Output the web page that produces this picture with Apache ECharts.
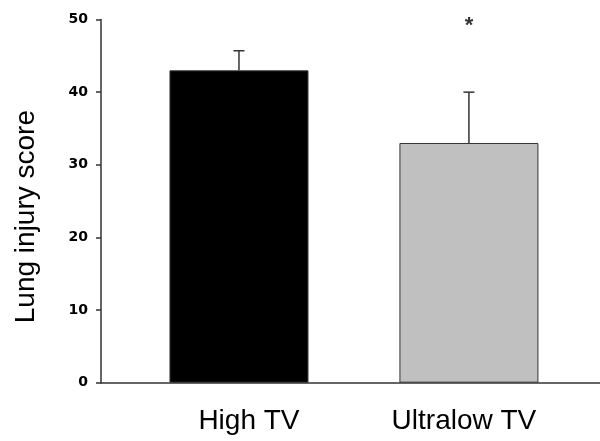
<!DOCTYPE html>
<html>
<head>
<meta charset="utf-8">
<script src="https://cdn.jsdelivr.net/npm/echarts@6/dist/echarts.min.js"></script>
<style>html,body{margin:0;padding:0;background:#fff;}#c{width:600px;height:441px;}</style>
</head>
<body>
<div id="c"></div>
<script>
// ---- data ----
var categories = ['High TV', 'Ultralow TV'];
var means = [43, 33];
var upperErrors = [45.7, 40];
var barColors = ['#000000', '#c0c0c0'];
var significance = ['', '*'];
var significanceLevel = [null, 49.1];
var yTicks = [0, 10, 20, 30, 40, 50];

var positions = categories.map(function (c, i) { return i + 1; });
var barData = means.map(function (m, i) {
  return { value: [positions[i], m], itemStyle: { color: barColors[i] } };
});
var errData = means.map(function (m, i) { return [positions[i], m, upperErrors[i]]; });
var sigData = significance.map(function (s, i) {
  return significanceLevel[i] == null ? null : { value: [positions[i], significanceLevel[i]], label: { formatter: s } };
}).filter(function (d) { return d; });

var labelFont = { color: '#000', fontSize: 28, fontFamily: 'Liberation Sans, Arial, sans-serif' };
var richStyles = {
  c0: Object.assign({ padding: [0, 0, 0, 20] }, labelFont),
  c1: Object.assign({ padding: [0, 10, 0, 0] }, labelFont)
};

var chart = echarts.init(document.getElementById('c'), null, { renderer: 'canvas' });
chart.setOption({
  backgroundColor: '#ffffff',
  animation: false,
  grid: { left: 101, right: 0, top: 19.5, bottom: 58.3, containLabel: false },
  xAxis: {
    type: 'value',
    min: 0.4,
    max: 2.57,
    splitLine: { show: false },
    axisTick: { show: false },
    axisLine: { show: true, onZero: false, lineStyle: { color: '#333', width: 1.5 } },
    axisLabel: {
      customValues: positions,
      margin: 25,
      color: '#000',
      fontSize: 28,
      fontFamily: 'Liberation Sans, Arial, sans-serif',
      rich: richStyles,
      formatter: function (v) {
        var i = Math.round(v) - 1;
        return categories[i] ? '{c' + i + '|' + categories[i] + '}' : '';
      }
    }
  },
  yAxis: {
    type: 'value',
    min: yTicks[0],
    max: yTicks[yTicks.length - 1],
    interval: 10,
    name: 'Lung injury score',
    nameLocation: 'middle',
    nameRotate: 90,
    nameGap: 61,
    nameTextStyle: { fontSize: 28, color: '#000', fontFamily: 'Liberation Sans, Arial, sans-serif', padding: [0, 31, 0, 0] },
    splitLine: { show: false },
    axisLine: { show: true, onZero: false, lineStyle: { color: '#333', width: 1.5 } },
    axisTick: { show: true, length: 5, lineStyle: { color: '#333', width: 1.5 } },
    axisLabel: { margin: 13, color: '#000', fontSize: 14, fontWeight: 'bold', fontFamily: 'DejaVu Sans, sans-serif' }
  },
  series: [
    {
      type: 'bar',
      data: barData,
      barWidth: 139,
      itemStyle: { borderColor: '#333', borderWidth: 1 },
      z: 2
    },
    {
      type: 'custom',
      data: errData,
      z: 3,
      renderItem: function (params, api) {
        var x = api.value(0);
        var base = api.coord([x, api.value(1)]);
        var top = api.coord([x, api.value(2)]);
        var half = 5.5;
        var style = { stroke: '#333', lineWidth: 1.5 };
        return {
          type: 'group',
          children: [
            { type: 'line', shape: { x1: base[0], y1: base[1], x2: top[0], y2: top[1] }, style: style },
            { type: 'line', shape: { x1: top[0] - half, y1: top[1], x2: top[0] + half, y2: top[1] }, style: style }
          ]
        };
      }
    },
    {
      type: 'scatter',
      data: sigData,
      symbolSize: 0,
      z: 4,
      label: {
        show: true,
        position: 'inside',
        color: '#000',
        fontSize: 22,
        fontWeight: 'bold',
        fontFamily: 'Liberation Sans, Arial, sans-serif'
      }
    }
  ]
});
</script>
</body>
</html>
